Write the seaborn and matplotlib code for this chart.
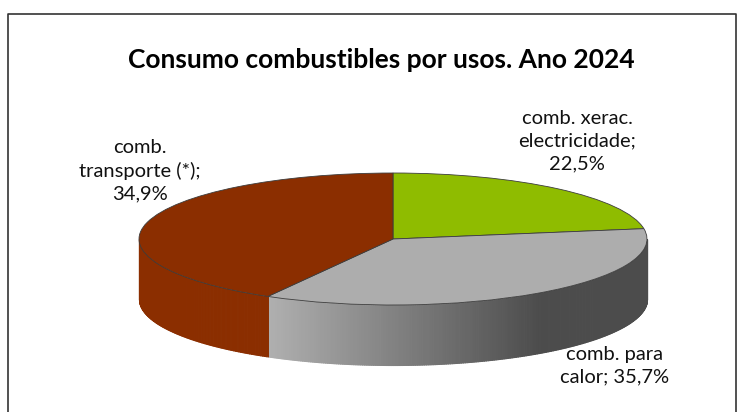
import numpy as np
import matplotlib
matplotlib.use("Agg")
import matplotlib.pyplot as plt
from matplotlib.colors import to_rgb
from matplotlib.lines import Line2D
import seaborn as sns

W, H = 742, 412

title = "Consumo combustibles por usos. Ano 2024"
names = ["comb. xerac.\nelectricidade;", "comb. para\ncalor;", "comb.\ntransporte (*);"]
shares = [22.5, 35.7, 34.9]
# the brown wedge is drawn larger than its label says, the rest of the 100% sits in it
unlabelled = 6.9
top_colors = ["#8FBC00", "#ADADAD", "#8B2E00"]
rim_left = ["#8FBC00", "#B0B0B0", "#8B2E00"]
rim_right = ["#8FBC00", "#4C4C4C", "#842B00"]

sns.set_theme(style="white")
plt.rcParams["font.family"] = ["Lato", "DejaVu Sans"]

# pie ellipse in pixels
cx, cy, rx, ry = 393, 239, 254, 66
depth = 60 / ry


def fig_xy(px, py):
    return px / W, 1 - py / H


def pct(s):
    return f"{s:.1f}".replace(".", ",") + "%"


fig = plt.figure(figsize=(W / 100, H / 100), dpi=100, facecolor="white")
ax = fig.add_axes([0, 0, 1, 1])

values = [shares[0], shares[1], shares[2] + unlabelled]
wedges, _ = ax.pie(values, colors=sns.color_palette(top_colors), startangle=90, counterclock=False,
                   radius=1, wedgeprops={"edgecolor": "#3c3c3c", "linewidth": 0.6, "zorder": 3})
ax.set_aspect("auto")
ax.set_xlim(-cx / rx, (W - cx) / rx)
ax.set_ylim((cy - H) / ry, cy / ry)
ax.axis("off")

# side of the disc, thin strips so the shading can run along x
for w, c0, c1 in zip(wedges, rim_left, rim_right):
    t = np.radians(np.arange(w.theta1, w.theta2 + 0.5, 0.5))
    t = t[np.sin(t) <= 0.001]
    if len(t) < 2:
        continue
    xs = np.cos(t)
    ys = np.sin(t)
    for i in range(len(t) - 1):
        xm = (xs[i] + xs[i + 1]) / 2
        # shading stops near x=540px
        f = np.clip((xm - (-0.49)) / (0.58 + 0.49), 0, 1)
        col = (1 - f) * np.array(to_rgb(c0)) + f * np.array(to_rgb(c1))
        ax.fill_between(xs[i:i + 2], ys[i:i + 2], ys[i:i + 2] - depth, color=col, lw=0.8, zorder=1)

fig.text(*fig_xy(381, 60), title, ha="center", va="center", fontsize=19, fontweight="bold", color="black")

txt = dict(ha="center", va="center", fontsize=14.5, color="#111111", linespacing=1.4)
fig.text(*fig_xy(577, 141), f"{names[0]}\n{pct(shares[0])}", **txt)
fig.text(*fig_xy(615, 366), f"{names[1]} {pct(shares[1])}", **txt)
fig.text(*fig_xy(140, 171), f"{names[2]}\n{pct(shares[2])}", **txt)

# chart frame, open at the bottom
frame_x = [x / W for x in (8, 8, 736, 736)]
frame_y = [1 - y / H for y in (H, 14, 14, H)]
fig.add_artist(Line2D(frame_x, frame_y, color="#333333", lw=1.2))

fig.savefig("out.png", dpi=100)
